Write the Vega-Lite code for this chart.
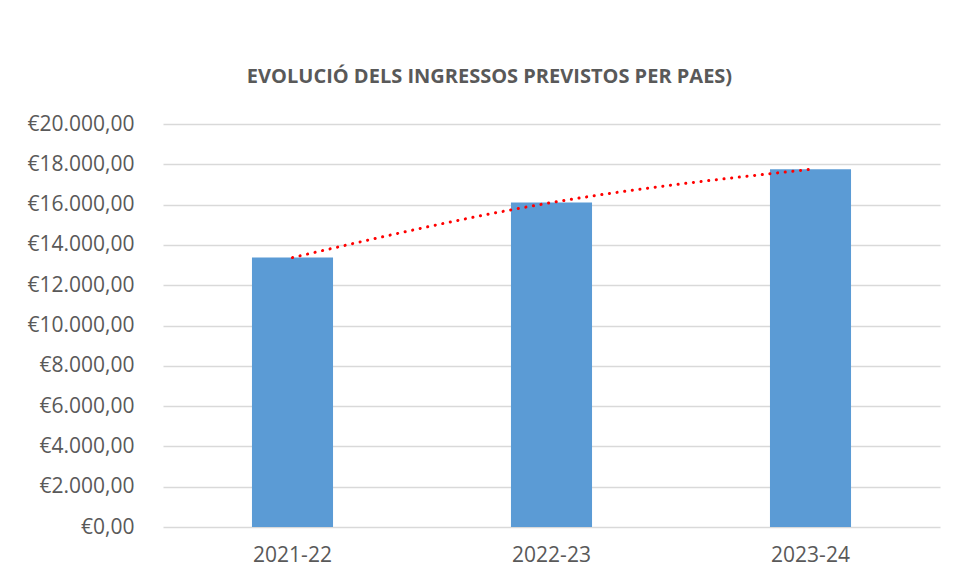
{
  "$schema": "https://vega.github.io/schema/vega-lite/v6.json",
  "width": 777,
  "height": 403,
  "autosize": {"type": "none"},
  "padding": {"left": 163, "top": 124, "right": 15, "bottom": 52},
  "background": "white",
  "config": {
    "locale": {"number": {"decimal": ",", "thousands": ".", "grouping": [3], "currency": ["€", ""]}},
    "view": {"stroke": null},
    "font": "Open Sans"
  },
  "title": {
    "text": "EVOLUCIÓ DELS INGRESSOS PREVISTOS PER PAES)",
    "font": "Open Sans",
    "fontSize": 20,
    "fontWeight": "bold",
    "color": "#595959",
    "anchor": "middle",
    "dx": -62,
    "offset": 26
  },
  "data": {
    "values": [
      {"curs": "2021-22", "ingressos": 13370},
      {"curs": "2022-23", "ingressos": 16100},
      {"curs": "2023-24", "ingressos": 17750}
    ]
  },
  "encoding": {
    "x": {
      "field": "curs",
      "type": "nominal",
      "sort": null,
      "title": null,
      "scale": {"paddingInner": 0.687, "paddingOuter": 0.3435},
      "axis": {
        "labelAngle": 0,
        "labelFont": "Open Sans",
        "labelFontSize": 21,
        "labelColor": "#595959",
        "labelPadding": 17,
        "domain": false,
        "ticks": false,
        "grid": false
      }
    },
    "y": {
      "field": "ingressos",
      "type": "quantitative",
      "title": null,
      "scale": {"domain": [0, 20000], "nice": false},
      "axis": {
        "values": [0, 2000, 4000, 6000, 8000, 10000, 12000, 14000, 16000, 18000, 20000],
        "format": "$,.2f",
        "labelFont": "Open Sans",
        "labelFontSize": 21,
        "labelColor": "#595959",
        "labelPadding": 29,
        "domain": false,
        "ticks": false,
        "grid": true,
        "gridColor": "#d9d9d9",
        "gridWidth": 1.5
      }
    }
  },
  "layer": [
    {"mark": {"type": "bar", "color": "#5b9bd5"}},
    {
      "mark": {
        "type": "line",
        "color": "#ff0000",
        "strokeWidth": 3,
        "strokeCap": "round",
        "strokeDash": [0.1, 7.6],
        "interpolate": "monotone"
      }
    }
  ]
}
